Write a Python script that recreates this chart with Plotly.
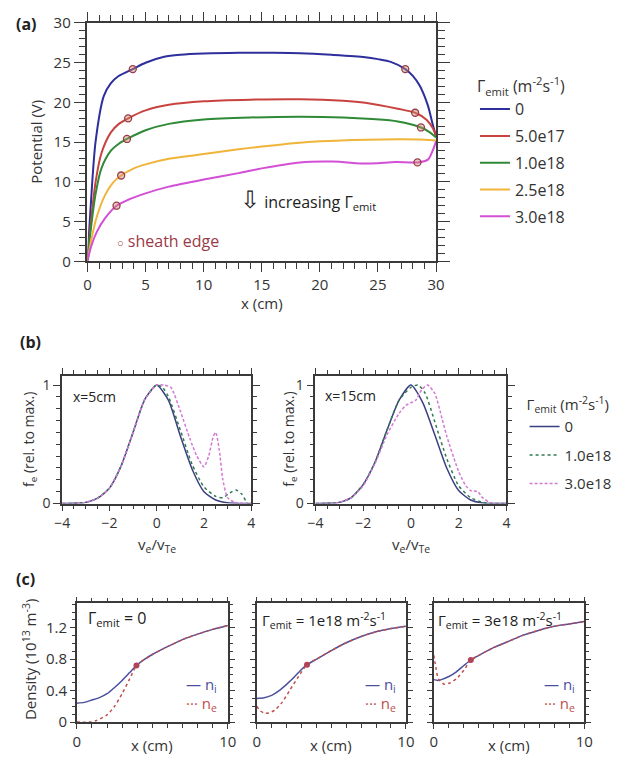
import plotly.graph_objects as go

W, H = 626, 769
FONT = "Open Sans"
G = "Γ"

# ---------------- Panel (a): potential profiles ----------------
a_labels = ["0", "5.0e17", "1.0e18", "2.5e18", "3.0e18"]
a_colors = ["#2e2e9c", "#c8433f", "#2f8a38", "#f0b43a", "#d24fd6"]

a0_x = [0, 0.28, 0.7, 1.4, 2.0, 2.65, 3.9, 5.0, 6.6, 8, 10, 13, 16, 18.3, 21, 23.9, 25, 26.1, 27.35, 28.0, 28.6, 29.3, 29.7, 30]
a0_y = [0, 7.0, 15.1, 20.8, 22.4, 23.3, 24.2, 25.0, 25.75, 26.0, 26.15, 26.25, 26.25, 26.2, 26.0, 25.7, 25.45, 25.1, 24.2, 23.35, 22.1, 19.6, 17.3, 15.7]
a1_x = [0, 0.3, 0.7, 1.2, 2.0, 2.7, 3.5, 5, 7, 10, 14, 18.3, 22, 23.9, 26.7, 28.2, 29.2, 29.7, 30]
a1_y = [0, 5.0, 10.0, 13.6, 16.2, 17.3, 18.0, 19.0, 19.7, 20.15, 20.35, 20.4, 20.2, 19.95, 19.2, 18.7, 17.8, 16.8, 15.8]
a2_x = [0, 0.3, 0.7, 1.2, 2.0, 2.7, 3.4, 5, 7, 10, 14, 18.3, 22, 24.5, 26.7, 28.7, 29.4, 30]
a2_y = [0, 4.2, 8.5, 11.7, 13.9, 14.8, 15.4, 16.5, 17.3, 17.85, 18.1, 18.2, 18.1, 17.9, 17.6, 16.85, 16.3, 15.6]
a3_x = [0, 0.3, 0.8, 1.5, 2.2, 2.9, 4, 5, 7, 10, 13, 15, 18, 20, 24, 27, 29, 30]
a3_y = [0, 2.5, 5.6, 8.3, 9.9, 10.8, 11.7, 12.2, 12.9, 13.5, 14.1, 14.45, 14.9, 15.1, 15.3, 15.35, 15.3, 15.2]
a4_x = [0, 0.3, 0.8, 1.5, 2.5, 3.5, 5, 7, 10, 13, 15, 18.3, 21.1, 23.9, 25, 26.5, 28.4, 29.3, 29.7, 30]
a4_y = [0, 1.8, 3.7, 5.4, 7.0, 7.75, 8.55, 9.4, 10.3, 11.1, 11.7, 12.45, 12.55, 12.3, 12.35, 12.5, 12.45, 12.8, 13.9, 15.1]
a_xs = [a0_x, a1_x, a2_x, a3_x, a4_x]
a_ys = [a0_y, a1_y, a2_y, a3_y, a4_y]

# sheath-edge positions
sheath_x = [[3.9, 27.35], [3.5, 28.2], [3.4, 28.7], [2.9], [2.5, 28.4]]
sheath_y = [[24.2, 24.2], [18.0, 18.7], [15.4, 16.85], [10.8], [7.0, 12.45]]

# ---------------- Panel (b): distribution functions ----------------
b_labels = ["0", "1.0e18", "3.0e18"]
b_colors = ["#3b3f80", "#2f7a52", "#d27ad2"]
b_dash = ["solid", "dot", "3px,2px"]

b5_v0 = [-4, -3.5, -3, -2.5, -2, -1.5, -1, -0.5, 0, 0.5, 1, 1.5, 2, 2.5, 3, 3.5, 4]
b5_f0 = [0, 0.002, 0.01, 0.045, 0.13, 0.32, 0.6, 0.88, 1.0, 0.87, 0.57, 0.29, 0.1, 0.03, 0.006, 0.001, 0]
b5_v1 = [-4, -3.5, -3, -2.5, -2, -1.5, -1, -0.5, 0, 0.25, 0.5, 1, 1.5, 2, 2.5, 2.8, 3.1, 3.35, 3.6, 3.85, 4]
b5_f1 = [0, 0.002, 0.01, 0.045, 0.13, 0.32, 0.6, 0.88, 1.0, 0.98, 0.9, 0.62, 0.33, 0.14, 0.06, 0.05, 0.09, 0.115, 0.08, 0.0, 0]
b5_v2 = [-4, -3.5, -3, -2.5, -2, -1.5, -1, -0.5, 0, 0.3, 0.6, 1.0, 1.4, 1.7, 2.0, 2.2, 2.4, 2.5, 2.65, 2.8, 3.0, 3.3, 4]
b5_f2 = [0, 0.002, 0.01, 0.045, 0.13, 0.32, 0.6, 0.88, 1.0, 1.0, 0.98, 0.78, 0.55, 0.4, 0.31, 0.4, 0.57, 0.6, 0.45, 0.2, 0.05, 0.01, 0]

b15_v0 = [-4, -3.5, -3, -2.5, -2, -1.5, -1, -0.5, 0, 0.5, 1, 1.5, 2, 2.5, 3, 3.5, 4]
b15_f0 = [0, 0.002, 0.01, 0.05, 0.16, 0.35, 0.62, 0.87, 1.0, 0.85, 0.58, 0.3, 0.11, 0.03, 0.005, 0, 0]
b15_v1 = [-4, -3.5, -3, -2.5, -2, -1.5, -1, -0.5, 0, 0.3, 0.6, 1, 1.5, 2, 2.5, 3, 3.5, 4]
b15_f1 = [0, 0.002, 0.01, 0.05, 0.16, 0.35, 0.62, 0.87, 0.98, 1.0, 0.93, 0.69, 0.38, 0.15, 0.05, 0.01, 0, 0]
b15_v2 = [-4, -3.5, -3, -2.5, -2, -1.5, -1, -0.5, -0.2, 0, 0.2, 0.45, 0.7, 1.0, 1.3, 1.5, 2, 2.3, 2.5, 2.8, 3.0, 3.3, 3.6, 4]
b15_f2 = [0, 0.002, 0.01, 0.05, 0.15, 0.34, 0.58, 0.76, 0.83, 0.85, 0.87, 0.96, 1.0, 0.93, 0.72, 0.57, 0.27, 0.15, 0.11, 0.1, 0.05, 0.01, 0, 0]

# ---------------- Panel (c): densities ----------------
c0_x = [0, 0.5, 1, 1.5, 2, 2.5, 3, 3.5, 3.95, 4.5, 5, 6, 7, 8, 9, 10]
c0_ni = [0.24, 0.25, 0.28, 0.31, 0.36, 0.44, 0.53, 0.63, 0.72, 0.8, 0.86, 0.96, 1.05, 1.12, 1.18, 1.23]
c0_xe = [0, 0.9, 1.3, 2, 2.5, 3, 3.5, 3.95, 4.5, 5, 6, 7, 8, 9, 10]
c0_ne = [0, 0, 0.02, 0.09, 0.2, 0.36, 0.55, 0.72, 0.8, 0.86, 0.96, 1.05, 1.12, 1.18, 1.23]
c0_sx, c0_sy = [3.95], [0.72]

c1_x = [0, 0.5, 1, 1.5, 2, 2.5, 3, 3.37, 4, 5, 6, 7, 8, 9, 10]
c1_ni = [0.30, 0.31, 0.34, 0.40, 0.48, 0.57, 0.67, 0.73, 0.8, 0.91, 1.01, 1.09, 1.15, 1.19, 1.22]
c1_xe = [0, 0.25, 0.5, 0.8, 1.2, 1.7, 2.2, 2.8, 3.37, 4, 5, 6, 7, 8, 9, 10]
c1_ne = [0.2, 0.14, 0.115, 0.115, 0.15, 0.25, 0.4, 0.58, 0.73, 0.8, 0.91, 1.01, 1.09, 1.15, 1.19, 1.22]
c1_sx, c1_sy = [3.37], [0.73]

c2_x = [0, 0.25, 0.5, 1, 1.5, 2, 2.46, 3, 4, 5, 6, 7, 8, 9, 10]
c2_ni = [0.54, 0.53, 0.54, 0.58, 0.64, 0.72, 0.79, 0.85, 0.95, 1.03, 1.11, 1.17, 1.22, 1.25, 1.28]
c2_xe = [0, 0.15, 0.3, 0.7, 1.1, 1.5, 2, 2.46, 3, 4, 5, 6, 7, 8, 9, 10]
c2_ne = [0.85, 0.68, 0.55, 0.48, 0.5, 0.55, 0.66, 0.79, 0.85, 0.95, 1.03, 1.11, 1.17, 1.22, 1.25, 1.28]
c2_sx, c2_sy = [2.46], [0.79]

fig = go.Figure()

for i in range(5):
    fig.add_trace(go.Scatter(
        x=a_xs[i], y=a_ys[i], mode="lines", name=a_labels[i],
        line=dict(color=a_colors[i], width=2, shape="spline", smoothing=0.8),
        xaxis="x", yaxis="y", legend="legend", legendgroup="a%d" % i))
for i in range(5):
    fig.add_trace(go.Scatter(
        x=sheath_x[i], y=sheath_y[i], mode="markers", showlegend=False,
        marker=dict(symbol="circle", size=7, color="rgba(200,140,110,0.45)",
                    line=dict(color="#9a3a48", width=1.3)),
        xaxis="x", yaxis="y"))

b5 = [(b5_v0, b5_f0), (b5_v1, b5_f1), (b5_v2, b5_f2)]
b15 = [(b15_v0, b15_f0), (b15_v1, b15_f1), (b15_v2, b15_f2)]
for i in range(3):
    fig.add_trace(go.Scatter(
        x=b5[i][0], y=b5[i][1], mode="lines", name=b_labels[i],
        line=dict(color=b_colors[i], width=1.5, dash=b_dash[i], shape="spline", smoothing=0.6),
        xaxis="x2", yaxis="y2", legend="legend2", legendgroup="b%d" % i))
    fig.add_trace(go.Scatter(
        x=b15[i][0], y=b15[i][1], mode="lines", showlegend=False,
        line=dict(color=b_colors[i], width=1.5, dash=b_dash[i], shape="spline", smoothing=0.6),
        xaxis="x3", yaxis="y3"))

c_sets = [(c0_x, c0_ni, c0_xe, c0_ne, c0_sx, c0_sy),
          (c1_x, c1_ni, c1_xe, c1_ne, c1_sx, c1_sy),
          (c2_x, c2_ni, c2_xe, c2_ne, c2_sx, c2_sy)]
for k, (xi, ni, xe, ne, sx, sy) in enumerate(c_sets):
    xa, ya = "x%d" % (k + 4), "y%d" % (k + 4)
    fig.add_trace(go.Scatter(x=xi, y=ni, mode="lines", showlegend=False,
                             line=dict(color="#4b4f9e", width=1.5, shape="spline", smoothing=0.6),
                             xaxis=xa, yaxis=ya))
    fig.add_trace(go.Scatter(x=xe, y=ne, mode="lines", showlegend=False,
                             line=dict(color="#c0504d", width=1.5, dash="dot", shape="spline", smoothing=0.6),
                             xaxis=xa, yaxis=ya))
    fig.add_trace(go.Scatter(x=sx, y=sy, mode="markers", showlegend=False,
                             marker=dict(size=6, color="#b04458"),
                             xaxis=xa, yaxis=ya))

LC = "#3a3a3a"
TF = dict(family=FONT, size=15, color="#333")
TFB = dict(family=FONT, size=14, color="#333")


def fx(p):
    return p / W


def fy(p):
    return 1 - p / H


def ax(domain, rng, anchor, dtick, minor, ticklen=6, mlen=4, showlabels=True, font=TF):
    d = dict(domain=domain, range=rng, anchor=anchor, showgrid=False, zeroline=False,
             ticks="outside", ticklen=ticklen, tickwidth=1.3, tickcolor=LC, tickfont=font,
             showline=True, linecolor=LC, linewidth=1.5, mirror="ticks", dtick=dtick, tick0=0,
             minor=dict(dtick=minor, tick0=0, ticklen=mlen, ticks="outside", tickcolor=LC, tickwidth=1.1))
    if not showlabels:
        d["labelalias"] = {"0": "", "0.4": "", "0.8": "", "1.2": ""}
    return d


PA = dict(x=[81.7, 440], y=[257, 12.3])
PB = [dict(x=[55.7, 250], y=[505.7, 375]), dict(x=[316, 512.3], y=[505.7, 375])]
PC = [dict(x=[70.7, 226], y=[730, 608.3]), dict(x=[255.7, 409], y=[730, 608.3]),
      dict(x=[437.7, 592.3], y=[730, 608.3])]

lay = {}
lay["xaxis"] = ax([fx(PA["x"][0]), fx(PA["x"][1])], [0, 30], "y", 5, 1, ticklen=9, mlen=6)
lay["yaxis"] = ax([fy(PA["y"][0]), fy(PA["y"][1])], [0, 30], "x", 5, 1, ticklen=12, mlen=7)
for j, P in enumerate(PB):
    n = j + 2
    lay["xaxis%d" % n] = ax([fx(P["x"][0]), fx(P["x"][1])], [-4, 4], "y%d" % n, 2, 0.5,
                            ticklen=6, mlen=4, font=TFB)
    lay["yaxis%d" % n] = ax([fy(P["y"][0]), fy(P["y"][1])], [0, 1.074], "x%d" % n, 1, 0.1,
                            ticklen=7, mlen=4, font=TFB)
for k, P in enumerate(PC):
    n = k + 4
    lay["xaxis%d" % n] = ax([fx(P["x"][0]), fx(P["x"][1])], [0, 10], "y%d" % n, 10, 1, ticklen=5, mlen=4)
    lay["yaxis%d" % n] = ax([fy(P["y"][0]), fy(P["y"][1])], [0, 1.51], "x%d" % n, 0.4, 0.1,
                            ticklen=5, mlen=3, showlabels=(k == 0))

LEG_T = G + "<sub>emit</sub> (m<sup>-2</sup>s<sup>-1</sup>)"
fig.update_layout(
    width=W, height=H, margin=dict(l=0, r=0, t=0, b=0),
    paper_bgcolor="white", plot_bgcolor="white",
    legend=dict(x=fx(480), y=fy(62), xanchor="left", yanchor="top",
                bgcolor="rgba(0,0,0,0)", font=dict(family=FONT, size=16, color="#333"),
                title=dict(text=LEG_T, font=dict(family=FONT, size=16, color="#333")),
                tracegroupgap=3, traceorder="grouped"),
    legend2=dict(x=fx(531), y=fy(390), xanchor="left", yanchor="top",
                 bgcolor="rgba(0,0,0,0)", font=dict(family=FONT, size=15, color="#333"),
                 title=dict(text=LEG_T, font=dict(family=FONT, size=15, color="#333")),
                 tracegroupgap=6, traceorder="grouped"),
    **lay
)

ann = []


def text(x, y, s, size=15, color="#333", xanchor="left", bold=False, angle=0):
    if bold:
        s = "<b>" + s + "</b>"
    ann.append(dict(x=fx(x), y=fy(y), xref="paper", yref="paper", text=s, showarrow=False,
                    xanchor=xanchor, yanchor="middle", textangle=angle,
                    font=dict(family=FONT, size=size, color=color)))


# panel labels
text(6, 13, "(a)", 16, "#222", bold=True)
text(10, 340, "(b)", 16, "#222", bold=True)
text(6, 583, "(c)", 16, "#222", bold=True)
# axis titles
text(261, 300, "x (cm)", 15, "#333", xanchor="center")
text(28, 134, "Potential (V)", 15, "#333", xanchor="center", angle=-90)
text(153, 548, "v<sub>e</sub>/v<sub>Te</sub>", 15, "#333", xanchor="center")
text(414, 548, "v<sub>e</sub>/v<sub>Te</sub>", 15, "#333", xanchor="center")
text(22, 440, "f<sub>e</sub> (rel. to max.)", 14, "#333", xanchor="center", angle=-90)
text(289, 440, "f<sub>e</sub> (rel. to max.)", 14, "#333", xanchor="center", angle=-90)
for P in PC:
    text((P["x"][0] + P["x"][1]) / 2, 754, "x (cm)", 15, "#333", xanchor="center")
text(22, 666, "Density (10<sup>13</sup> m<sup>-3</sup>)", 15, "#333", xanchor="center", angle=-90)
# in-plot texts
text(110, 236, '<span style="font-size:11px">○</span> sheath edge', 16, "#9a3a48")
text(236, 192, '<span style="font-size:24px">⇩</span> increasing ' + G + "<sub>emit</sub>", 16, "#222")
text(65, 396, "x=5cm", 14, "#222")
text(324, 395, "x=15cm", 14, "#222")
text(80, 624, G + "<sub>emit</sub> = 0", 16, "#222")
text(259, 626, G + "<sub>emit</sub> = 1e18 m<sup>-2</sup>s<sup>-1</sup>", 15, "#222")
text(440, 626, G + "<sub>emit</sub> = 3e18 m<sup>-2</sup>s<sup>-1</sup>", 15, "#222")
for xr in (217, 401, 585):
    text(xr, 692, "— n<sub>i</sub>", 15, "#4b4f9e", xanchor="right")
    text(xr, 711, "··· n<sub>e</sub>", 15, "#c0504d", xanchor="right")

fig.update_layout(annotations=ann)
fig.write_html("out.html")
